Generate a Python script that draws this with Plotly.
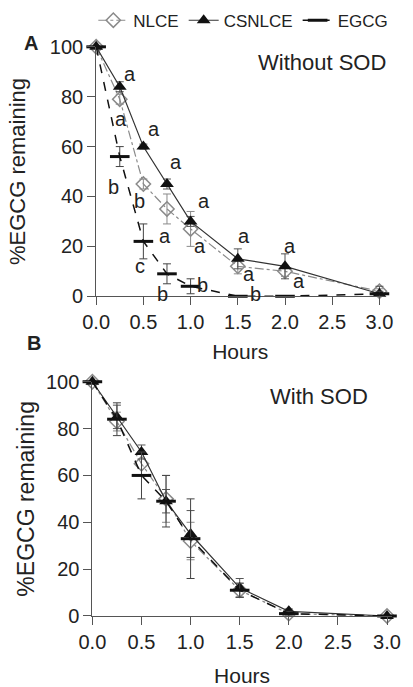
import plotly.graph_objects as go

# ---------------- data ----------------
hours = [0.0, 0.25, 0.5, 0.75, 1.0, 1.5, 2.0, 3.0]

# Panel A: without SOD
a_nlce = [100, 79, 45, 35, 27, 12, 10, 2]
a_nlce_err = [0, 2, 2, 6, 7, 3, 2, 1]
a_csnlce = [100, 84, 60, 45, 30, 15, 12, 1]
a_csnlce_err = [0, 2, 1, 2, 2, 4, 5, 3]
a_egcg = [100, 56, 22, 9, 4, 0, 0, 1]
a_egcg_err = [0, 4, 7, 4, 3, 0, 0, 1]

# Panel B: with SOD
b_nlce = [100, 83, 65, 50, 32, 11, 1, 0]
b_nlce_err = [0, 4, 5, 10, 8, 3, 1, 0]
b_csnlce = [100, 85, 70, 49, 35, 12, 2, 0]
b_csnlce_err = [0, 5, 3, 5, 10, 4, 1, 0]
b_egcg = [100, 84, 60, 49, 33, 11, 1, 0]
b_egcg_err = [0, 7, 10, 11, 17, 3, 1, 0]

# significance letters (panel A): x, y, text
sig_x = [0.36, 0.26, 0.18, 0.61, 0.46, 0.46, 0.85, 0.73, 0.70,
         1.14, 1.10, 1.13, 1.57, 1.62, 1.69, 2.05, 2.15, 2.15]
sig_y = [89, 71, 44, 67, 38, 12, 54, 24, 1,
         38, 20, 4.5, 24, 9, 1, 20, 6, -2]
sig_t = ["a", "a", "b", "a", "b", "c", "a", "a", "b",
         "a", "a", "b", "a", "a", "b", "a", "a", "b"]

x_ticks = [0.0, 0.5, 1.0, 1.5, 2.0, 2.5, 3.0]
x_ticklabels = ["0.0", "0.5", "1.0", "1.5", "2.0", "2.5", "3.0"]
y_ticks = [0, 20, 40, 60, 80, 100]

W, H = 413, 687
FONT = "Liberation Sans, Arial, sans-serif"
TXT = "#222222"

fig = go.Figure()


def add_series(xa, ya, show_legend):
    specs = [
        ("NLCE", a_nlce if xa == "x" else b_nlce, a_nlce_err if xa == "x" else b_nlce_err,
         dict(color="#8a8a8a", width=1.2, dash="dashdot"),
         dict(symbol="diamond-open", size=11, color="#8a8a8a", line=dict(width=1.5, color="#8a8a8a")),
         "#8a8a8a"),
        ("CSNLCE", a_csnlce if xa == "x" else b_csnlce, a_csnlce_err if xa == "x" else b_csnlce_err,
         dict(color="#333333", width=1.2, dash="solid"),
         dict(symbol="triangle-up", size=12, color="#111111"),
         "#555555"),
        ("EGCG", a_egcg if xa == "x" else b_egcg, a_egcg_err if xa == "x" else b_egcg_err,
         dict(color="#111111", width=1.5, dash="dash"),
         dict(symbol="line-ew", size=14, color="#111111", line=dict(width=3, color="#111111")),
         "#444444"),
    ]
    for name, yv, ev, ln, mk, ec in specs:
        fig.add_trace(go.Scatter(
            x=hours, y=yv, name=name, mode="lines+markers",
            line=ln, marker=mk, xaxis=xa, yaxis=ya,
            error_y=dict(type="data", array=ev, visible=True, color=ec, thickness=1, width=4),
            showlegend=show_legend, legendgroup=name, cliponaxis=False,
        ))


add_series("x", "y", True)
add_series("x2", "y2", False)

for sx, sy, st in zip(sig_x, sig_y, sig_t):
    fig.add_annotation(x=sx, y=sy, text=st, xref="x", yref="y", showarrow=False,
                       font=dict(family=FONT, size=20, color=TXT))

axis_common = dict(
    showgrid=False, zeroline=False, showline=True, linecolor="#555555", linewidth=1,
    ticks="outside", ticklen=8, tickcolor="#555555",
    tickfont=dict(family=FONT, size=20, color=TXT),
)
tfont = dict(size=21, family=FONT, color=TXT)
yfontA = dict(size=22, family=FONT, color=TXT)
yfontB = dict(size=23, family=FONT, color=TXT)

fig.update_layout(
    width=W, height=H,
    margin=dict(l=0, r=0, t=0, b=0),
    paper_bgcolor="white", plot_bgcolor="white",
    font=dict(family=FONT, color=TXT),
    xaxis=dict(domain=[87 / W, 392 / W], range=[0, 3.05], tickvals=x_ticks, ticktext=x_ticklabels,
               anchor="y", title=dict(text="Hours", font=tfont, standoff=12),
               **axis_common),
    yaxis=dict(domain=[1 - 294.7 / H, 1 - 37 / H], range=[0, 100], tickvals=y_ticks, anchor="x",
               title=dict(text="%EGCG remaining", font=yfontA, standoff=18),
               **axis_common),
    xaxis2=dict(domain=[83 / W, 400 / W], range=[0, 3.048], tickvals=x_ticks, ticktext=x_ticklabels,
                anchor="y2", title=dict(text="Hours", font=tfont, standoff=18),
                **axis_common),
    yaxis2=dict(domain=[1 - 625 / H, 1 - 383 / H], range=[0, 100], tickvals=y_ticks, anchor="x2",
                title=dict(text="%EGCG remaining", font=yfontB, standoff=4),
                **axis_common),
    legend=dict(orientation="h", x=84 / W, y=1 - 10 / H, xanchor="left", yanchor="middle",
                font=dict(family=FONT, size=17, color=TXT), itemwidth=30,
                bgcolor="rgba(0,0,0,0)", tracegroupgap=0),
    showlegend=True,
)

fig.add_annotation(x=18 / W, y=1 - 33 / H, xref="paper", yref="paper", text="<b>A</b>",
                   xanchor="center", yanchor="middle",
                   showarrow=False, font=dict(family=FONT, size=20, color=TXT))
fig.add_annotation(x=21 / W, y=1 - 343 / H, xref="paper", yref="paper", text="<b>B</b>",
                   xanchor="center", yanchor="middle",
                   showarrow=False, font=dict(family=FONT, size=20, color=TXT))
fig.add_annotation(x=256 / W, y=1 - 53 / H, xref="paper", yref="paper", text="Without SOD",
                   xanchor="left", yanchor="middle", showarrow=False,
                   font=dict(family=FONT, size=22, color=TXT))
fig.add_annotation(x=269 / W, y=1 - 398 / H, xref="paper", yref="paper", text="With SOD",
                   xanchor="left", yanchor="middle", showarrow=False,
                   font=dict(family=FONT, size=22, color=TXT))

fig.write_html("out.html")
